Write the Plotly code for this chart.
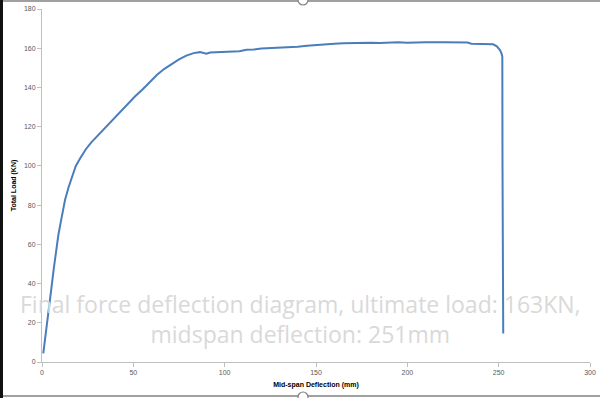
import plotly.graph_objects as go

# Mid-span deflection (mm) and total load (KN)
deflection = [0.7, 2.0, 3.5, 5.0, 6.5, 8.0, 9.0, 10.5, 12.6, 14.5, 16.5, 18.5, 21, 24, 27, 30,
              33.5, 37, 40.5, 43, 47, 51, 55, 59, 63, 67, 71, 75, 79, 83, 86.5, 88.5, 90, 92,
              96, 100, 104, 108, 112, 116, 120, 125, 130, 135, 140, 145, 150, 155, 160, 165,
              170, 175, 180, 185, 190, 195, 200, 205, 210, 220, 228, 233, 235, 240, 245, 247,
              249, 250.7, 251.5, 252.0, 252.1, 252.2, 252.5]
load = [4.4, 13.5, 25, 36.5, 48, 59, 65, 72.5, 82.6, 89, 95, 100, 104, 108.5, 112, 115,
        118, 121.5, 125, 127.8, 131.5, 135.5, 139, 143, 146.5, 149.5, 152, 154.3, 156.2, 157.5,
        158, 157.6, 157.2, 157.8, 158, 158.3, 158.6, 158.5, 159.2, 159.3, 159.8, 160, 160.3,
        160.7, 160.8, 161.3, 161.7, 162, 162.3, 162.5, 162.7, 162.6, 162.8, 162.7, 163, 163,
        162.8, 163, 163, 163, 162.9, 162.9, 162.3, 162.3, 162.2, 162, 161, 159.1, 157.5, 155.7,
        100, 15.5, 14.5]

x_ticks = [0, 50, 100, 150, 200, 250, 300]
y_ticks = [0, 20, 40, 60, 80, 100, 120, 140, 160, 180]

fig = go.Figure()
fig.add_trace(go.Scatter(x=deflection, y=load, mode="lines",
                         line=dict(color="#4A7EBB", width=2), showlegend=False,
                         hoverinfo="skip"))

L, R, T, B = 42, 10, 9, 36
PW, PH = 600 - L - R, 398 - T - B

def px(x):
    return (x - L) / PW

def py(y):
    return (398 - B - y) / PH

axis_common = dict(showline=True, linecolor="#BFBFBF", linewidth=1, ticks="outside",
                   ticklen=4, tickcolor="#BFBFBF", showgrid=False, zeroline=False,
                   automargin=False,
                   tickfont=dict(family="Liberation Sans, Arial", size=7, color="#595959"))

fig.update_xaxes(range=[0, 300], tickvals=x_ticks, **axis_common,
                 title=dict(text="<b>Mid-span Deflection (mm)</b>",
                            font=dict(family="Liberation Sans, Arial", size=7, color="#000"),
                            standoff=6))
fig.update_yaxes(range=[0, 180], tickvals=y_ticks, **axis_common,
                 title=dict(text="<b>Total Load (KN)</b>",
                            font=dict(family="Liberation Sans, Arial", size=7, color="#000"),
                            standoff=6))

fig.add_annotation(xref="paper", yref="paper", x=px(300), y=py(319), showarrow=False,
                   text="Final force deflection diagram, ultimate load: 163KN,<br>midspan deflection: 251mm",
                   font=dict(family="Open Sans, Noto Sans", size=23, color="#D9D9D9"),
                   align="center", yanchor="middle")

shapes = [
    dict(type="rect", xref="paper", yref="paper", x0=px(0), x1=px(3), y0=py(398), y1=py(0),
         fillcolor="#111111", line=dict(width=0), layer="above"),
    dict(type="rect", xref="paper", yref="paper", x0=px(3), x1=px(600), y0=py(2), y1=py(0),
         fillcolor="#A0A0A0", line=dict(width=0), layer="above"),
    dict(type="rect", xref="paper", yref="paper", x0=px(3), x1=px(600), y0=py(397), y1=py(395),
         fillcolor="#A0A0A0", line=dict(width=0), layer="above"),
    dict(type="circle", xref="paper", yref="paper", x0=px(298), x1=px(308), y0=py(5), y1=py(-5),
         fillcolor="white", line=dict(color="#808080", width=1.2), layer="above"),
    dict(type="circle", xref="paper", yref="paper", x0=px(298), x1=px(308), y0=py(402), y1=py(392),
         fillcolor="white", line=dict(color="#808080", width=1.2), layer="above"),
]
fig.update_layout(width=600, height=398, autosize=False,
                  margin=dict(l=L, r=R, t=T, b=B),
                  paper_bgcolor="white", plot_bgcolor="white", shapes=shapes)

fig.write_html("out.html", config={"displayModeBar": False},
               post_script="document.body.style.margin='0';document.body.style.overflow='hidden';")
